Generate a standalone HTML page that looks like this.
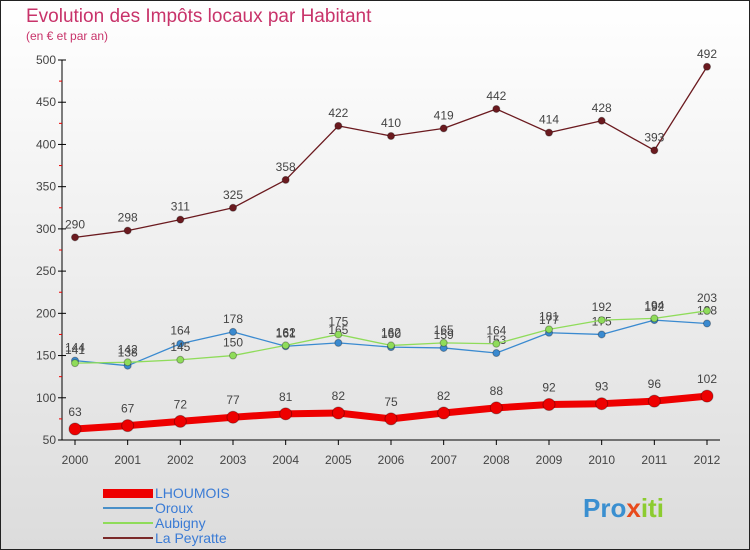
<!DOCTYPE html>
<html><head><meta charset="utf-8"><style>
body{margin:0;}
#c{width:750px;height:550px;position:relative;overflow:hidden;background:linear-gradient(#fff,#dcdcdc);font-family:"Liberation Sans",sans-serif;}
</style></head><body>
<div id="c">
<svg id="s" width="750" height="550" style="position:absolute;left:0;top:0">
<rect x="0.5" y="0.5" width="749" height="549" fill="none" stroke="#222"/>
<text x="26" y="22" font-size="19" fill="#c8336a">Evolution des Impôts locaux par Habitant</text>
<text x="26" y="40" font-size="12" fill="#c8336a">(en € et par an)</text>
<g id="ax"></g><g id="series"></g>
<g>
<rect x="103" y="489" width="50" height="9" fill="#ee0000"/>
<text x="155" y="498" font-size="14" fill="#3a7bd5">LHOUMOIS</text>
<line x1="103" y1="508" x2="153" y2="508" stroke="#4a90c8" stroke-width="2"/>
<text x="155" y="513" font-size="14" fill="#3a7bd5">Oroux</text>
<line x1="103" y1="523" x2="153" y2="523" stroke="#8fdc5a" stroke-width="2"/>
<text x="155" y="528" font-size="14" fill="#3a7bd5">Aubigny</text>
<line x1="103" y1="538" x2="153" y2="538" stroke="#7a2a2a" stroke-width="2"/>
<text x="155" y="543" font-size="14" fill="#3a7bd5">La Peyratte</text>
</g>
<text x="583" y="517" font-size="26" font-weight="bold" fill="#3a8fd0">Pro<tspan fill="#e84a1c">x</tspan><tspan fill="#8ccc30">iti</tspan></text>
</svg>
</div>
<script>
const years=[2000,2001,2002,2003,2004,2005,2006,2007,2008,2009,2010,2011,2012];
const yTicks=[50,100,150,200,250,300,350,400,450,500];
const lhoumois=[63,67,72,77,81,82,75,82,88,92,93,96,102];
const oroux=[144,138,164,178,161,165,160,159,153,177,175,192,188];
const aubigny=[141,142,145,150,162,175,162,165,164,181,192,194,203];
const peyratte=[290,298,311,325,358,422,410,419,442,414,428,393,492];
const NS="http://www.w3.org/2000/svg";
const X=i=>75+i*(632/12), Y=v=>440-(v-50)*(380/450);
function mk(t,a,p){const e=document.createElementNS(NS,t);for(const k in a)e.setAttribute(k,a[k]);p.appendChild(e);return e;}
const ax=document.getElementById('ax'), sg=document.getElementById('series');
const yl=mk('line',{x1:62,y1:Y(500),x2:62,y2:440,stroke:'#000'},ax);


const xl=mk('line',{x1:62,y1:440,x2:720,y2:440,stroke:'#000'},ax);


yTicks.forEach(v=>{mk('line',{x1:58,y1:Y(v),x2:66,y2:Y(v),stroke:'#000'},ax);
 if(v<500)mk('line',{x1:59,y1:Y(v+25),x2:62,y2:Y(v+25),stroke:'#e00'},ax);
 const t=mk('text',{x:56,y:Y(v)+4,'font-size':12,fill:'#444','text-anchor':'end'},ax);t.textContent=v;
 
 });
years.forEach((y,i)=>{mk('line',{x1:X(i),y1:440,x2:X(i),y2:445,stroke:'#000'},ax);
 const t=mk('text',{x:X(i),y:464,'font-size':12,fill:'#444','text-anchor':'middle'},ax);t.textContent=y;
 
 });
function series(d,col,w,r,name,labOff){
 const g=mk('g',{},sg);
 
 
 mk('polyline',{points:d.map((v,i)=>X(i)+','+Y(v)).join(' '),fill:'none',stroke:col,'stroke-width':w,'stroke-linejoin':'round'},g);
 d.forEach((v,i)=>{const c=mk('circle',{cx:X(i),cy:Y(v),r:r,fill:col,stroke:'rgba(0,0,0,0.3)'},g);
  
  
  const t=mk('text',{x:X(i),y:Y(v)-labOff,'font-size':12,fill:'#444','text-anchor':'middle'},g);t.textContent=v;
  
  });
}
series(peyratte,'#6b1a1f',1.3,3.5,'la-peyratte',9);
series(oroux,'#3a8ad0',1.3,3.5,'oroux',9);
series(aubigny,'#8fdc5a',1.3,3.5,'aubigny',9);
series(lhoumois,'#ee0000',7,6,'lhoumois',13);
</script>
</body></html>
